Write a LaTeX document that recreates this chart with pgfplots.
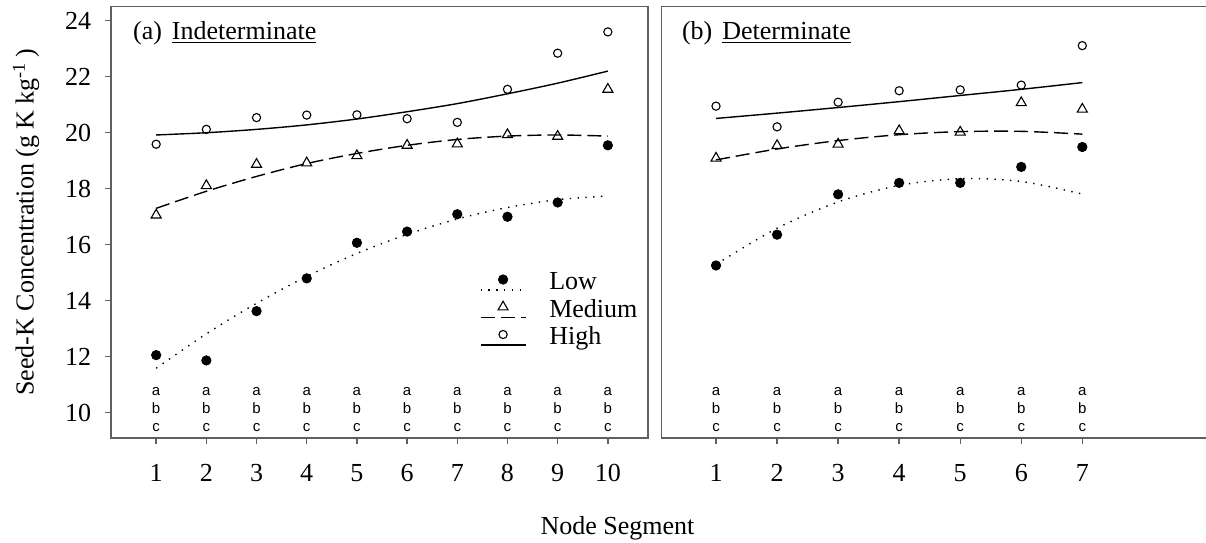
\documentclass[border=0pt]{standalone}
\usepackage{fontspec}
\setmainfont{Liberation Serif}
\newfontfamily\abcfont{Liberation Sans}
\usepackage{pgfplots}
\usepackage{pgfplotstable}
\pgfplotsset{compat=1.18}

\definecolor{framegray}{RGB}{95,95,95}

% Seed-K concentration by node segment: measured means
\pgfplotstableread{
x    low    med    high
1    12.06  17.06  19.59
2    11.87  18.11  20.12
3    13.63  18.87  20.54
4    14.80  18.92  20.63
5    16.07  19.18  20.64
6    16.47  19.55  20.50
7    17.09  19.60  20.37
8    17.00  19.93  21.55
9    17.51  19.87  22.84
10   19.55  21.55  23.60
}\indetpts

% fitted regression curves (indeterminate)
\pgfplotstableread{
x    low    med    high
1    11.59  17.30  19.92
2    12.82  17.91  20.00
3    13.91  18.44  20.12
4    14.87  18.90  20.28
5    15.69  19.26  20.49
6    16.37  19.55  20.75
7    16.92  19.76  21.04
8    17.33  19.88  21.39
9    17.61  19.92  21.77
10   17.74  19.88  22.20
}\indetfit

\pgfplotstableread{
x    low    med    high
1    15.26  19.09  20.95
2    16.36  19.54  20.21
3    17.80  19.59  21.09
4    18.21  20.07  21.50
5    18.21  20.02  21.53
6    18.78  21.07  21.70
7    19.49  20.84  23.11
}\detpts

% fitted regression curves (determinate)
\pgfplotstableread{
x    low    med    high
1    15.30  19.03  20.51
2    16.59  19.42  20.70
3    17.53  19.72  20.90
4    18.12  19.93  21.11
5    18.36  20.04  21.33
6    18.26  20.05  21.55
7    17.81  19.95  21.79
}\detfit

\tikzset{abc/.style={font=\abcfont\fontsize{7.5}{9}\selectfont, anchor=base, inner sep=0pt}}

\pgfplotsset{
  lowline/.style={black, line width=0.7pt, dash pattern=on 0.7pt off 3.2pt},
  medline/.style={black, line width=0.7pt, dash pattern=on 7pt off 3pt},
  highline/.style={black, line width=0.7pt, solid},
  lowmark/.style={mark=*, mark size=2.3pt, mark options={solid, fill=black, line width=0.5pt}},
  medmark/.style={mark=triangle, mark size=2.9pt, mark options={solid, line width=0.55pt}},
  highmark/.style={mark=o, mark size=2.05pt, mark options={solid, line width=0.55pt}},
  panel/.style={
    scale only axis,
    height=215.65pt,
    ymin=9.1, ymax=24.5,
    axis line style={framegray, line width=0.7pt},
    tick style={framegray, line width=0.7pt},
    major tick length=3.2pt,
    tick align=outside,
    xtick pos=left, ytick pos=left,
    clip=false,
    ticklabel style={font=\fontsize{13}{15}\selectfont},
    /pgf/number format/assume math mode=true,
    xticklabel style={anchor=north, inner sep=0pt, yshift=-9.6pt},
    yticklabel style={anchor=east, inner sep=0pt, xshift=-6.5pt},
  },
}

\begin{document}
\begin{tikzpicture}
\useasboundingbox (0,0) rectangle (603pt,271pt);

% (a) indeterminate
\begin{axis}[panel,
  at={(55.5pt,52pt)}, anchor=south west,
  width=268.5pt,
  xmin=0.1, xmax=10.8,
  xtick={1,...,10},
  ytick={10,12,...,24},
  ylabel={Seed-K Concentration (g K kg\textsuperscript{-1}\,)},
  ylabel style={at={(rel axis cs:-0.158,0.5)}, anchor=center, font=\fontsize{13}{15}\selectfont},
  legend style={at={(axis cs:7.45,15.03)}, anchor=north west, draw=none, fill=none,
    inner sep=0pt, outer sep=0pt, row sep=1.75pt,
    font=\fontsize{13}{15}\selectfont,
    cells={anchor=base west},
    nodes={inner sep=0pt, text height=9pt, text depth=3pt},
    /tikz/every odd column/.append style={column sep=11.5pt}},
  legend image code/.code={
    \draw[#1, mark=none] (0pt,0pt) -- (22.5pt,0pt);
    \draw[#1, solid] plot coordinates {(11.25pt,5.2pt)};
  },
]
\addlegendimage{lowline, lowmark}
\addlegendentry{Low}
\addlegendimage{medline, medmark}
\addlegendentry{Medium}
\addlegendimage{highline, highmark}
\addlegendentry{High}

\addplot[lowline, smooth, forget plot] table[x=x, y=low] {\indetfit};
\addplot[medline, smooth, forget plot] table[x=x, y=med] {\indetfit};
\addplot[highline, smooth, forget plot] table[x=x, y=high] {\indetfit};
\addplot[only marks, lowmark, forget plot] table[x=x, y=low] {\indetpts};
\addplot[only marks, medmark, forget plot] table[x=x, y=med] {\indetpts};
\addplot[only marks, highmark, forget plot] table[x=x, y=high] {\indetpts};

\pgfplotsinvokeforeach{1,...,10}{
  \node[abc] at (axis cs:#1,10.60) {a};
  \node[abc] at (axis cs:#1,9.96) {b};
  \node[abc] at (axis cs:#1,9.33) {c};
}
\node[anchor=base west, inner sep=0pt, font=\fontsize{13}{15}\selectfont]
  at (rel axis cs:0.0404,0.924) {(a)\hspace{5pt}\underline{Indeterminate}};
\end{axis}

% (b) determinate
\begin{axis}[panel,
  at={(330.85pt,52pt)}, anchor=south west,
  width=274.4pt,
  xmin=0.11, xmax=9.1,
  xtick={1,...,7},
  ytick=\empty,
]
\addplot[lowline, smooth] table[x=x, y=low] {\detfit};
\addplot[medline, smooth] table[x=x, y=med] {\detfit};
\addplot[highline, smooth] table[x=x, y=high] {\detfit};
\addplot[only marks, lowmark] table[x=x, y=low] {\detpts};
\addplot[only marks, medmark] table[x=x, y=med] {\detpts};
\addplot[only marks, highmark] table[x=x, y=high] {\detpts};

\pgfplotsinvokeforeach{1,...,7}{
  \node[abc] at (axis cs:#1,10.60) {a};
  \node[abc] at (axis cs:#1,9.96) {b};
  \node[abc] at (axis cs:#1,9.33) {c};
}
\node[anchor=base west, inner sep=0pt, font=\fontsize{13}{15}\selectfont]
  at (rel axis cs:0.0364,0.924) {(b)\hspace{5pt}\underline{Determinate}};
\end{axis}

\node[anchor=base, inner sep=0pt, font=\fontsize{13}{15}\selectfont] at (308.75pt,4pt) {Node Segment};
\end{tikzpicture}
\end{document}
